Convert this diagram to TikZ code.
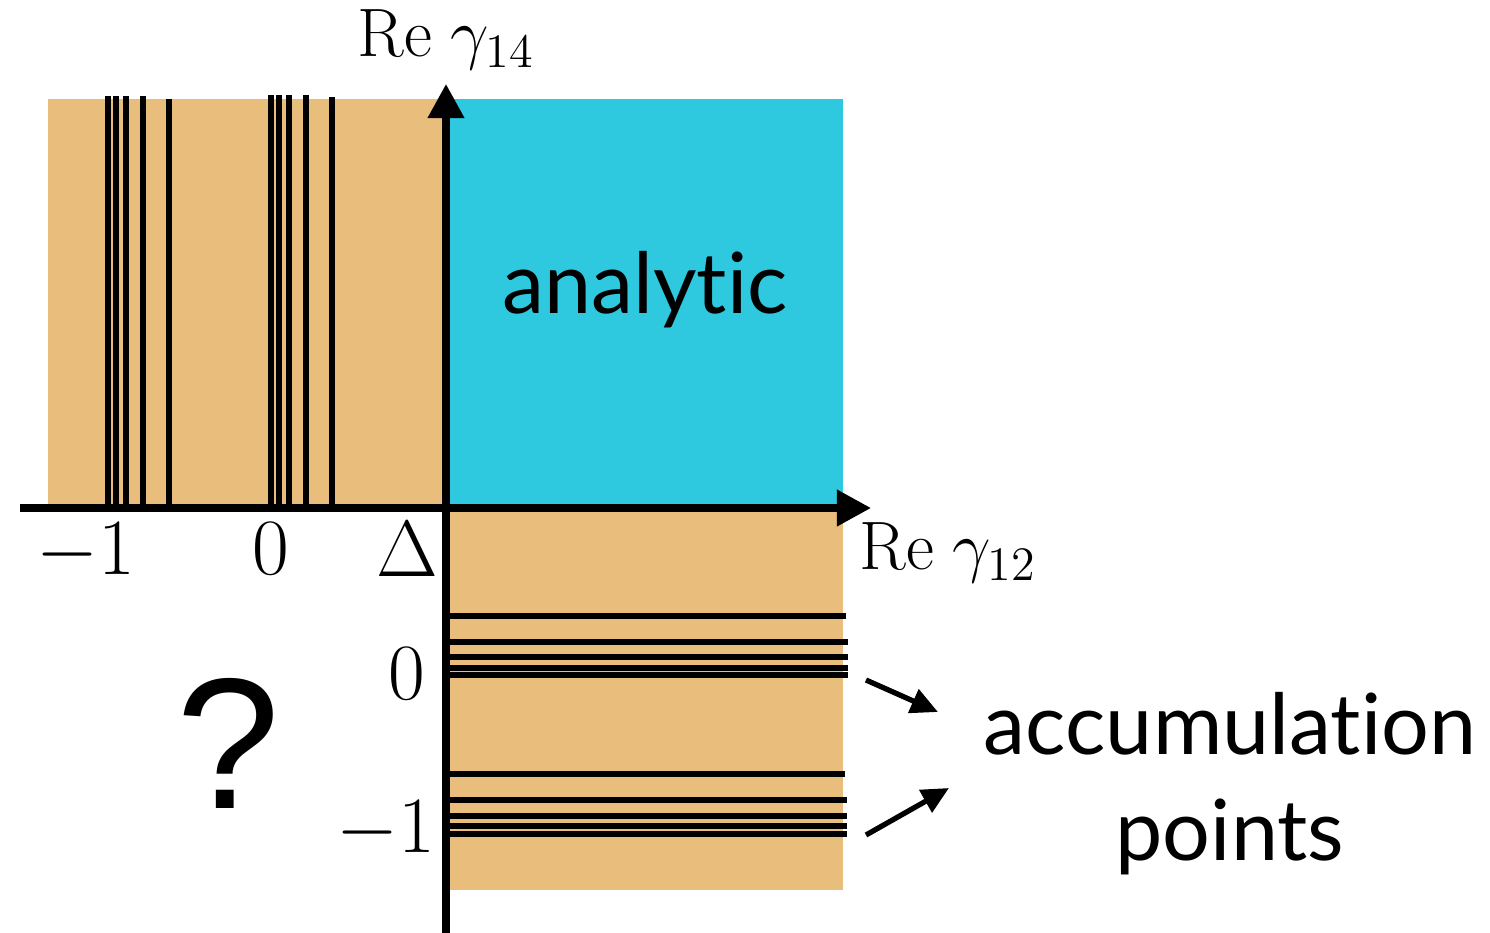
\RequirePackage{fix-cm}
\documentclass[tikz,border=0pt]{standalone}
\usepackage{fontspec}
\newfontfamily\wordfont[Ligatures=NoCommon]{Lato}
\newfontfamily\quesfont{Liberation Sans}
\usepackage{xcolor}
\definecolor{Sandy}{HTML}{E9BE7C}
\definecolor{Sky}{HTML}{2EC8DF}
\usepackage{tikz}
\usetikzlibrary{arrows.meta}

\begin{document}
\begin{tikzpicture}[
  x=0.01cm,y=-0.01cm,
  region/.style={fill=Sandy},
  cut/.style={line width=1.6pt},
  axis/.style={line width=2pt,-{Triangle[length=3.4mm,width=3.5mm]}},
  pointer/.style={line width=1.5pt,-{Triangle[length=2.7mm,width=2.5mm]}},
  tick/.style={anchor=base,inner sep=0pt,font=\fontsize{22.7}{26}\selectfont},
  axlabel/.style={inner sep=0pt,font=\fontsize{19.5}{22}\selectfont},
  word/.style={anchor=base,inner sep=0pt,align=center,font=\wordfont\fontsize{24}{30}\selectfont}
]
\useasboundingbox (0,0) rectangle (1490,933);

\fill[region] (48,99) rectangle (446,508);
\fill[Sky] (446,99) rectangle (843,508);
\fill[region] (446,508) rectangle (843,890);

\foreach \xx/\yy in {107.7/96,116/96,126.3/96,142.7/96,169/99,271/95,278.7/95,289.3/95,305.7/95,332/97}
  \draw[cut] (\xx,\yy) -- (\xx,508);
\foreach \yy/\xx in {616/846,641.7/848,657.3/848,667.7/848,675.3/848,774.3/845,800/847,815.7/847,826/847,833.7/847}
  \draw[cut] (446,\yy) -- (\xx,\yy);

\coordinate (xstart) at (20,508);
\coordinate (xtip) at (871,508);
\coordinate (ystart) at (446,933);
\coordinate (ytip) at (446,84);
\draw[axis] (xstart) -- (xtip);
\draw[axis] (ystart) -- (ytip);

\node[axlabel] (ylab) at (446,40) {$\mathrm{Re}\;\gamma_{14}$};
\node[axlabel] (xlab) at (948,553) {$\mathrm{Re}\;\gamma_{12}$};

\node[tick] (xm1) at (86,574) {$-1$};
\node[tick] (x0) at (271,574) {$0$};
\node[tick] (xdelta) at (407,576) {$\Delta$};
\node[tick] (y0) at (407,699) {$0$};
\node[tick] (ym1) at (386,852) {$-1$};

\node[word] (analytic) at (645,313) {analytic};
\node[anchor=base,inner sep=0pt,font=\quesfont\fontsize{53}{60}\selectfont] (unknown) at (228,808) {?};
\node[word] (accum) at (1230,860) {accumulation\\points};

\coordinate (band0) at (866,680);
\coordinate (band1) at (866,835);
\coordinate (tip0) at (938,712);
\coordinate (tip1) at (949,788);
\draw[pointer] (band0) -- (tip0);
\draw[pointer] (band1) -- (tip1);
\end{tikzpicture}
\end{document}
